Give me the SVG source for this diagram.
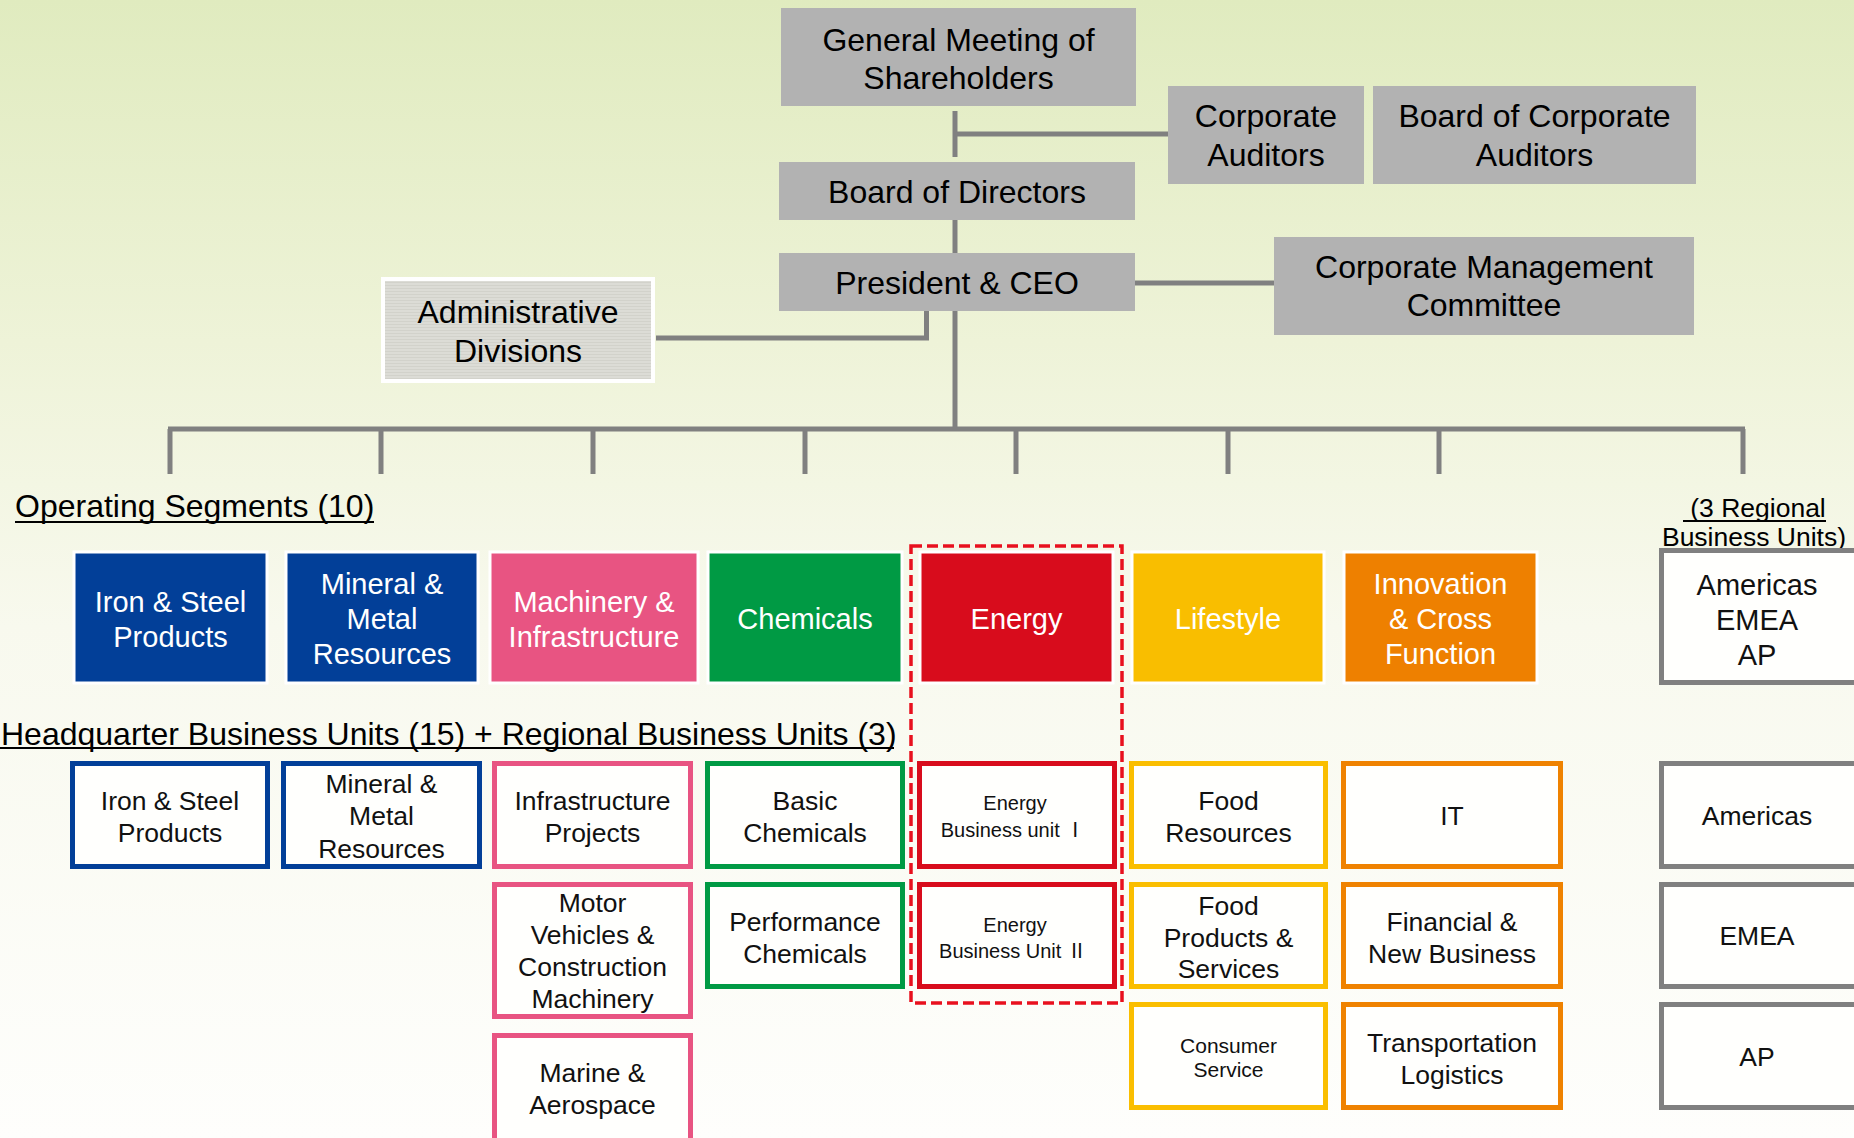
<svg xmlns="http://www.w3.org/2000/svg" width="1854" height="1138" viewBox="0 0 1854 1138">
<defs>
<linearGradient id="bg" x1="0" y1="0" x2="0" y2="1">
<stop offset="0" stop-color="#e0ebbf"/>
<stop offset="0.3" stop-color="#eef3d8"/>
<stop offset="0.55" stop-color="#f8f9ee"/>
<stop offset="1" stop-color="#fefefc"/>
</linearGradient>
<pattern id="dots" width="3" height="3" patternUnits="userSpaceOnUse">
<rect width="3" height="3" fill="#dcdcd6"/>
<rect width="3" height="1" fill="#d2d2cb"/>
</pattern>
<style>
text{font-family:"Liberation Sans",Arial,"Noto Sans CJK JP",sans-serif;text-anchor:middle}
.top rect{fill:#b2b2b2}
.top text{font-size:32px;fill:#000}
.seg text{font-size:29px;fill:#fff}
.seg rect{stroke:#fff;stroke-width:3}
.hq rect{fill:#fffffd;stroke-width:5}
.hq text{font-size:26.5px;fill:#111}
.hq text.sm{font-size:20px}
.hq text.sm2{font-size:21px}
.cjk{font-family:"Noto Sans CJK JP",sans-serif}
.blue{fill:#023f98}.pink{fill:#e85482}.green{fill:#009a44}.red{fill:#d80c1c}.yellow{fill:#f9be00}.orange{fill:#ee8000}
.sblue{stroke:#023f98}.spink{stroke:#e85482}.sgreen{stroke:#009a44}.sred{stroke:#d80c1c}.syellow{stroke:#fabe00}.sorange{stroke:#ef8200}.sgray{stroke:#808080}
.conn path{fill:none;stroke:#808080;stroke-width:5}
.uline{stroke:#000;stroke-width:2}
.hdr{font-size:32px;text-anchor:start;fill:#000}
</style>
</defs>
<rect width="1854" height="1138" fill="url(#bg)"/>

<g id="connectors" class="conn">
<path d="M955 111 V157"/>
<path d="M955 134 H1168"/>
<path d="M955 220 V253"/>
<path d="M955 311 V429"/>
<path d="M1135 283 H1274"/>
<path d="M656 338 H926.5 V311"/>
<path d="M168 429 H1745"/>
<path d="M170 429 V474 M381 429 V474 M593 429 V474 M805 429 V474 M1016 429 V474 M1228 429 V474 M1439 429 V474 M1743 429 V474"/>
</g>

<g id="gm" class="top"><rect x="781" y="8" width="355" height="98"/><text x="958.5" y="51">General Meeting of</text><text x="958.5" y="89">Shareholders</text></g>
<g id="corp-auditors" class="top"><rect x="1168" y="86" width="196" height="98"/><text x="1266" y="127">Corporate</text><text x="1266" y="166">Auditors</text></g>
<g id="board-corp-auditors" class="top"><rect x="1373" y="86" width="323" height="98"/><text x="1534.5" y="127">Board of Corporate</text><text x="1534.5" y="166">Auditors</text></g>
<g id="bod" class="top"><rect x="779" y="162" width="356" height="58"/><text x="957" y="203">Board of Directors</text></g>
<g id="ceo" class="top"><rect x="779" y="253" width="356" height="58"/><text x="957" y="294">President &amp; CEO</text></g>
<g id="cmc" class="top"><rect x="1274" y="237" width="420" height="98"/><text x="1484" y="278">Corporate Management</text><text x="1484" y="316">Committee</text></g>
<g id="admin" class="top"><rect x="381" y="277" width="274" height="106" style="fill:#fff"/><rect x="385" y="281" width="266" height="98" style="fill:url(#dots)"/><text x="518" y="323">Administrative</text><text x="518" y="362">Divisions</text></g>

<g id="header-segments"><text class="hdr" x="15" y="517">Operating Segments (10)</text><line class="uline" x1="15" y1="522" x2="374" y2="522"/></g>
<g id="header-hq"><text class="hdr" x="1" y="745">Headquarter Business Units (15) + Regional Business Units (3)</text><line class="uline" x1="0" y1="748" x2="894" y2="748"/></g>
<g id="regional-label"><text x="1758" y="517" style="font-size:26.5px">(3 Regional</text><line class="uline" x1="1683" y1="521" x2="1826" y2="521"/><text x="1754" y="546" style="font-size:26.5px">Business Units)</text><line class="uline" x1="1661" y1="549" x2="1846" y2="549"/></g>

<g id="seg-iron" class="seg"><rect class="blue" x="74" y="552" width="193" height="131"/><text x="170.5" y="612">Iron &amp; Steel</text><text x="170.5" y="647">Products</text></g>
<g id="seg-mineral" class="seg"><rect class="blue" x="286" y="552" width="192" height="131"/><text x="382" y="594">Mineral &amp;</text><text x="382" y="629">Metal</text><text x="382" y="664">Resources</text></g>
<g id="seg-machinery" class="seg"><rect class="pink" x="490" y="552" width="208" height="131"/><text x="594" y="612">Machinery &amp;</text><text x="594" y="647">Infrastructure</text></g>
<g id="seg-chemicals" class="seg"><rect class="green" x="708" y="552" width="194" height="131"/><text x="805" y="629">Chemicals</text></g>
<g id="seg-energy" class="seg"><rect class="red" x="920" y="552" width="193" height="131"/><text x="1016.5" y="629">Energy</text></g>
<g id="seg-lifestyle" class="seg"><rect class="yellow" x="1132" y="552" width="192" height="131"/><text x="1228" y="629">Lifestyle</text></g>
<g id="seg-innovation" class="seg"><rect class="orange" x="1344" y="552" width="193" height="131"/><text x="1440.5" y="594">Innovation</text><text x="1440.5" y="629">&amp; Cross</text><text x="1440.5" y="664">Function</text></g>
<g id="seg-regional" class="hq"><rect class="sgray" x="1661.5" y="550.5" width="240" height="132"/><text x="1757" y="595" style="font-size:29px">Americas</text><text x="1757" y="630" style="font-size:29px">EMEA</text><text x="1757" y="664.5" style="font-size:29px">AP</text></g>

<g id="energy-group"><rect x="911" y="546" width="211" height="457" fill="none" stroke="#e8101e" stroke-width="3.5" stroke-dasharray="11 5"/></g>

<g id="hq-iron" class="hq"><rect class="sblue" x="72.5" y="763.5" width="195" height="103"/><text x="170" y="810">Iron &amp; Steel</text><text x="170" y="842">Products</text></g>
<g id="hq-mineral" class="hq"><rect class="sblue" x="283.5" y="763.5" width="196" height="103"/><text x="381.5" y="792.5">Mineral &amp;</text><text x="381.5" y="825">Metal</text><text x="381.5" y="857.5">Resources</text></g>
<g id="hq-infra" class="hq"><rect class="spink" x="494.5" y="763.5" width="196" height="103"/><text x="592.5" y="810">Infrastructure</text><text x="592.5" y="842">Projects</text></g>
<g id="hq-motor" class="hq"><rect class="spink" x="494.5" y="884.5" width="196" height="132"/><text x="592.5" y="912">Motor</text><text x="592.5" y="944">Vehicles &amp;</text><text x="592.5" y="976">Construction</text><text x="592.5" y="1008">Machinery</text></g>
<g id="hq-marine" class="hq"><rect class="spink" x="494.5" y="1035.5" width="196" height="130"/><text x="592.5" y="1082">Marine &amp;</text><text x="592.5" y="1114">Aerospace</text></g>
<g id="hq-basic" class="hq"><rect class="sgreen" x="707.5" y="763.5" width="195" height="103"/><text x="805" y="810">Basic</text><text x="805" y="842">Chemicals</text></g>
<g id="hq-performance" class="hq"><rect class="sgreen" x="707.5" y="884.5" width="195" height="102"/><text x="805" y="931">Performance</text><text x="805" y="963">Chemicals</text></g>
<g id="hq-energy1" class="hq"><rect class="sred" x="919.5" y="763.5" width="195" height="103"/><text class="sm" x="1015" y="810">Energy</text><text class="sm" x="1013" y="837">Business unit <tspan class="cjk">Ⅰ</tspan></text></g>
<g id="hq-energy2" class="hq"><rect class="sred" x="919.5" y="884.5" width="195" height="102"/><text class="sm" x="1015" y="932">Energy</text><text class="sm" x="1013" y="958">Business Unit <tspan class="cjk">Ⅱ</tspan></text></g>
<g id="hq-food-res" class="hq"><rect class="syellow" x="1131.5" y="763.5" width="194" height="103"/><text x="1228.5" y="810">Food</text><text x="1228.5" y="842">Resources</text></g>
<g id="hq-food-prod" class="hq"><rect class="syellow" x="1131.5" y="884.5" width="194" height="102"/><text x="1228.5" y="915">Food</text><text x="1228.5" y="947">Products &amp;</text><text x="1228.5" y="978">Services</text></g>
<g id="hq-consumer" class="hq"><rect class="syellow" x="1131.5" y="1004.5" width="194" height="103"/><text class="sm2" x="1228.5" y="1053">Consumer</text><text class="sm2" x="1228.5" y="1077">Service</text></g>
<g id="hq-it" class="hq"><rect class="sorange" x="1343.5" y="763.5" width="217" height="103"/><text x="1452" y="825">IT</text></g>
<g id="hq-financial" class="hq"><rect class="sorange" x="1343.5" y="884.5" width="217" height="102"/><text x="1452" y="931">Financial &amp;</text><text x="1452" y="963">New Business</text></g>
<g id="hq-transport" class="hq"><rect class="sorange" x="1343.5" y="1004.5" width="217" height="103"/><text x="1452" y="1052">Transportation</text><text x="1452" y="1084">Logistics</text></g>
<g id="hq-americas" class="hq"><rect class="sgray" x="1661.5" y="763.5" width="240" height="103"/><text x="1757" y="825">Americas</text></g>
<g id="hq-emea" class="hq"><rect class="sgray" x="1661.5" y="884.5" width="240" height="102"/><text x="1757" y="945">EMEA</text></g>
<g id="hq-ap" class="hq"><rect class="sgray" x="1661.5" y="1004.5" width="240" height="103"/><text x="1757" y="1066">AP</text></g>
</svg>
